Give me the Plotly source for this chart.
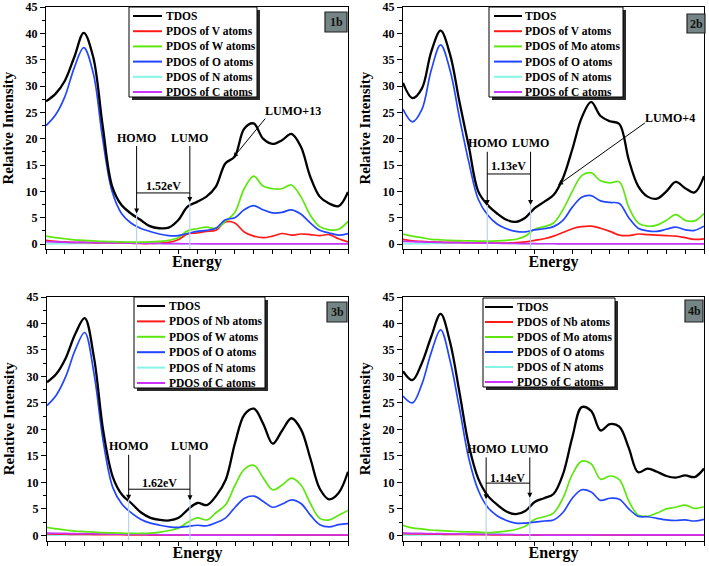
import plotly.graph_objects as go

# ---------------- data ----------------
ENERGY = [0.0, 0.25, 0.5, 0.75, 1.0, 1.25, 1.5, 1.75, 2.0, 2.25, 2.5, 2.75, 3.0, 3.25, 3.5, 3.75,
          4.0, 4.25, 4.5, 4.75, 5.0, 5.25, 5.5, 5.75, 6.0, 6.25, 6.5, 6.75, 7.0, 7.25, 7.5, 7.75, 8.0]

# Panel 1b
P1_TDOS = [27.1, 28.5, 31.0, 35.5, 40.1, 35.5, 22.5, 11.0, 7.4, 5.8, 4.6, 3.4, 3.0, 3.1, 4.5, 7.1,
           8.0, 9.0, 10.9, 15.3, 16.6, 21.9, 22.9, 20.0, 19.0, 19.7, 20.9, 18.5, 12.8, 9.0, 7.7, 7.2, 9.9]
P1_V = [0.7, 0.5, 0.4, 0.3, 0.3, 0.25, 0.2, 0.2, 0.2, 0.15, 0.1, 0.1, 0.15, 0.3, 0.8, 1.9,
        2.1, 2.4, 2.6, 4.2, 4.0, 2.3, 1.5, 1.2, 1.5, 2.0, 1.7, 1.9, 1.8, 1.6, 1.8, 1.0, 0.4]
P1_W = [1.5, 1.2, 1.0, 0.8, 0.7, 0.6, 0.5, 0.45, 0.4, 0.35, 0.35, 0.4, 0.5, 0.7, 1.2, 2.5,
        2.9, 3.2, 3.0, 4.3, 6.0, 10.5, 12.9, 11.0, 10.5, 10.5, 11.2, 9.0, 5.5, 3.3, 2.7, 2.8, 4.3]
P1_O = [22.5, 24.5, 28.0, 33.5, 37.3, 32.5, 20.0, 10.0, 5.8, 4.0, 3.0, 2.4, 1.9, 1.6, 1.6, 2.0,
        2.4, 2.6, 3.0, 4.6, 5.0, 6.5, 7.3, 6.5, 5.9, 6.0, 6.5, 5.7, 4.0, 2.6, 2.1, 1.7, 2.0]
P1_N = [0.05, 0.05, 0.08, 0.1, 0.12, 0.15, 0.2, 0.22, 0.25, 0.25, 0.2, 0.15, 0.1, 0.08, 0.05, 0.05,
        0.05, 0.05, 0.05, 0.05, 0.05, 0.05, 0.05, 0.05, 0.05, 0.05, 0.05, 0.05, 0.05, 0.05, 0.05, 0.05, 0.05]
P1_C = [0.45, 0.4, 0.35, 0.3, 0.3, 0.28, 0.25, 0.22, 0.2, 0.18, 0.15, 0.12, 0.1, 0.08, 0.06, 0.05,
        0.05, 0.04, 0.04, 0.04, 0.04, 0.03, 0.03, 0.03, 0.03, 0.03, 0.03, 0.03, 0.03, 0.03, 0.02, 0.02, 0.02]

# Panel 2b
P2_TDOS = [30.6, 27.7, 29.5, 36.5, 40.5, 36.0, 27.0, 18.5, 10.0, 7.4, 5.8, 4.6, 4.2, 5.0, 6.8, 8.0,
           9.3, 12.5, 18.0, 24.0, 27.0, 24.3, 23.3, 22.8, 16.0, 11.0, 9.0, 8.6, 10.0, 11.8, 10.6, 9.8, 12.9]
P2_V = [0.9, 0.6, 0.5, 0.4, 0.35, 0.3, 0.3, 0.25, 0.2, 0.2, 0.2, 0.2, 0.25, 0.4, 0.7, 1.0,
        1.5, 2.2, 2.9, 3.3, 3.4, 3.0, 2.4, 1.7, 1.6, 1.9, 1.8, 1.7, 1.6, 1.5, 1.2, 0.9, 1.0]
P2_MO = [1.9, 1.5, 1.2, 0.9, 0.8, 0.7, 0.65, 0.6, 0.55, 0.55, 0.6, 0.7, 0.9, 1.5, 2.8, 3.3,
         4.0, 6.5, 10.0, 13.0, 13.5, 12.0, 11.6, 11.8, 7.0, 4.0, 3.4, 3.6, 4.5, 5.6, 4.5, 4.4, 5.8]
P2_O = [25.6, 23.2, 25.5, 33.0, 37.8, 33.0, 24.0, 15.5, 8.5, 5.5, 3.8, 2.9, 2.4, 2.3, 2.7, 2.9,
        3.3, 4.5, 7.0, 8.9, 9.2, 8.2, 7.9, 7.7, 5.0, 3.0, 2.5, 2.4, 2.8, 3.2, 2.7, 2.6, 3.4]
P2_N = [0.05, 0.05, 0.08, 0.1, 0.12, 0.15, 0.2, 0.22, 0.25, 0.25, 0.2, 0.15, 0.1, 0.08, 0.05, 0.05,
        0.05, 0.05, 0.05, 0.05, 0.05, 0.05, 0.05, 0.05, 0.05, 0.05, 0.05, 0.05, 0.05, 0.05, 0.05, 0.05, 0.05]
P2_C = [0.5, 0.45, 0.4, 0.35, 0.3, 0.28, 0.25, 0.22, 0.2, 0.18, 0.15, 0.12, 0.1, 0.08, 0.06, 0.05,
        0.05, 0.04, 0.04, 0.04, 0.04, 0.03, 0.03, 0.03, 0.03, 0.03, 0.03, 0.03, 0.03, 0.03, 0.02, 0.02, 0.02]

# Panel 3b
P3_TDOS = [28.9, 30.5, 33.5, 38.0, 41.0, 33.5, 19.5, 11.0, 7.6, 6.0, 4.3, 3.3, 2.9, 2.8, 3.3, 4.9,
           6.1, 5.7, 7.5, 10.5, 17.5, 22.8, 23.9, 21.0, 17.3, 19.8, 22.1, 20.0, 14.5, 8.8, 6.8, 8.0, 12.0]
P3_NB = [0.25, 0.22, 0.2, 0.18, 0.16, 0.14, 0.12, 0.1, 0.1, 0.08, 0.06, 0.05, 0.04, 0.03, 0.03, 0.03,
         0.03, 0.03, 0.03, 0.03, 0.03, 0.03, 0.03, 0.03, 0.03, 0.03, 0.03, 0.03, 0.03, 0.03, 0.03, 0.03, 0.03]
P3_W = [1.5, 1.2, 1.0, 0.8, 0.7, 0.6, 0.5, 0.45, 0.4, 0.35, 0.35, 0.4, 0.6, 0.9, 1.4, 2.5,
        3.3, 2.9, 4.3, 5.8, 9.5, 12.5, 13.2, 10.8, 8.6, 9.5, 10.8, 9.5, 6.0, 3.2, 2.9, 3.8, 4.7]
P3_O = [24.5, 26.5, 30.0, 35.0, 38.3, 30.5, 17.5, 9.0, 5.8, 4.2, 3.0, 2.3, 1.9, 1.6, 1.5, 1.7,
        1.9, 1.8, 2.4, 3.3, 5.3, 7.0, 7.4, 6.4, 5.3, 5.9, 6.7, 6.0, 3.8, 2.0, 1.6, 2.0, 2.2]
P3_N = [0.05, 0.05, 0.08, 0.1, 0.12, 0.15, 0.2, 0.22, 0.25, 0.3, 0.3, 0.2, 0.15, 0.1, 0.05, 0.05,
        0.05, 0.05, 0.05, 0.05, 0.05, 0.05, 0.05, 0.05, 0.05, 0.05, 0.05, 0.05, 0.05, 0.05, 0.05, 0.05, 0.05]
P3_C = [0.4, 0.38, 0.35, 0.3, 0.3, 0.28, 0.25, 0.22, 0.2, 0.18, 0.15, 0.12, 0.1, 0.08, 0.06, 0.05,
        0.05, 0.05, 0.05, 0.05, 0.05, 0.05, 0.05, 0.05, 0.05, 0.06, 0.06, 0.06, 0.06, 0.06, 0.06, 0.06, 0.06]

# Panel 4b
P4_TDOS = [31.0, 29.3, 32.5, 37.5, 41.8, 36.5, 27.0, 17.0, 10.7, 7.5, 5.8, 4.5, 4.0, 4.6, 6.3, 7.0,
           7.8, 11.5, 18.5, 24.2, 23.5, 19.8, 21.0, 20.5, 16.5, 11.9, 12.6, 12.0, 11.2, 10.9, 11.3, 11.0, 12.6]
P4_NB = [0.3, 0.28, 0.25, 0.22, 0.2, 0.18, 0.16, 0.14, 0.12, 0.1, 0.08, 0.06, 0.05, 0.04, 0.03, 0.03,
         0.03, 0.03, 0.03, 0.03, 0.03, 0.03, 0.03, 0.03, 0.03, 0.03, 0.03, 0.03, 0.03, 0.03, 0.03, 0.03, 0.03]
P4_MO = [1.9, 1.4, 1.2, 1.0, 0.9, 0.8, 0.7, 0.65, 0.6, 0.5, 0.6, 0.8, 1.1, 1.7, 3.0, 3.5,
         4.2, 7.0, 11.5, 14.0, 13.5, 10.6, 11.2, 10.5, 6.5, 3.8, 3.6, 4.2, 5.0, 5.3, 5.7, 5.1, 5.4]
P4_O = [26.3, 25.0, 28.5, 34.5, 38.8, 33.0, 24.0, 14.5, 8.5, 5.3, 3.7, 2.8, 2.3, 2.3, 2.5, 2.7,
        2.9, 4.3, 7.0, 8.6, 8.2, 6.6, 7.0, 6.8, 5.0, 3.6, 3.5, 3.2, 2.9, 2.8, 2.9, 2.7, 3.0]
P4_N = [0.05, 0.05, 0.08, 0.1, 0.12, 0.15, 0.2, 0.22, 0.25, 0.3, 0.3, 0.2, 0.15, 0.1, 0.05, 0.05,
        0.05, 0.05, 0.05, 0.05, 0.05, 0.05, 0.05, 0.05, 0.05, 0.05, 0.05, 0.05, 0.05, 0.05, 0.05, 0.05, 0.05]
P4_C = [0.4, 0.38, 0.35, 0.3, 0.3, 0.28, 0.25, 0.22, 0.2, 0.18, 0.15, 0.12, 0.1, 0.08, 0.06, 0.05,
        0.05, 0.05, 0.05, 0.05, 0.05, 0.06, 0.06, 0.06, 0.06, 0.07, 0.07, 0.07, 0.07, 0.07, 0.07, 0.07, 0.07]

PANEL_TAGS = ["1b", "2b", "3b", "4b"]
LEGEND_NAMES = [
    ["TDOS", "PDOS of V atoms", "PDOS of W atoms", "PDOS of O atoms", "PDOS of N atoms", "PDOS of C atoms"],
    ["TDOS", "PDOS of V atoms", "PDOS of Mo atoms", "PDOS of O atoms", "PDOS of N atoms", "PDOS of C atoms"],
    ["TDOS", "PDOS of Nb atoms", "PDOS of W atoms", "PDOS of O atoms", "PDOS of N atoms", "PDOS of C atoms"],
    ["TDOS", "PDOS of Nb atoms", "PDOS of Mo atoms", "PDOS of O atoms", "PDOS of N atoms", "PDOS of C atoms"],
]
SERIES = [
    [P1_TDOS, P1_V, P1_W, P1_O, P1_N, P1_C],
    [P2_TDOS, P2_V, P2_MO, P2_O, P2_N, P2_C],
    [P3_TDOS, P3_NB, P3_W, P3_O, P3_N, P3_C],
    [P4_TDOS, P4_NB, P4_MO, P4_O, P4_N, P4_C],
]
GAP_LABELS = ["1.52eV", "1.13eV", "1.62eV", "1.14eV"]
HOMO_X = [2.40, 2.24, 2.17, 2.21]
LUMO_X = [3.81, 3.39, 3.80, 3.37]
HOMO_TIP = [5.8, 7.4, 6.7, 6.8]
LUMO_TIP = [8.0, 7.4, 6.6, 7.1]
LABEL_Y = [20.2, 19.1, 16.8, 16.3]
BRACKET_Y = [9.7, 13.3, 8.7, 9.85]
GAP_TEXT_Y = [11.0, 14.9, 9.9, 10.9]
EXTRA = {0: dict(text="LUMO+13", tx=6.54, ty=25.2, x0=5.84, y0=24.1, x1=4.96, y1=16.4),
         1: dict(text="LUMO+4", tx=7.09, ty=24.0, x0=6.47, y0=23.2, x1=4.12, y1=11.2)}

# ---------------- styling / layout ----------------
W, H = 709, 566
ML, MR, MT, MB = 46, 5, 7, 25
PW, PH = W - ML - MR, H - MT - MB

def xp(px):
    return (px - ML) / PW

def yp(py):
    return 1 - (py - MT) / PH

COLORS = ["#000000", "#ff1a1a", "#5ee60f", "#2246ff", "#86f5e6", "#cc33ff"]
WIDTHS = [2.3, 1.7, 1.7, 1.7, 1.7, 1.7]
DRAW_ORDER = [4, 1, 5, 2, 3, 0]
FONT = "Liberation Serif"

# panel pixel frames: (left, right, top, bottom)
FRAMES = [(46, 348, 7, 249.3), (403, 704, 7, 249.3), (47, 348, 297, 540.6), (403, 704, 297, 540.6)]
LEGEND_BOX = [(129, 257, 7, 97), (489, 623, 7, 97), (134, 265, 297, 388), (483, 615, 298, 387)]
LEGEND_LINE = [(133, 162, 164), (494, 522, 523), (137, 165, 167), (485, 513, 515)]
TAG_BOX = [(325, 347, 12, 32), (687, 705, 14, 33), (327, 347, 302, 322), (685, 703, 300, 322)]

fig = go.Figure()
layout = dict(width=W, height=H, margin=dict(l=ML, r=MR, t=MT, b=MB),
              paper_bgcolor="white", plot_bgcolor="white", showlegend=False,
              font=dict(family=FONT, color="black"))
shapes, annots = [], []

for i in range(4):
    sfx = "" if i == 0 else str(i + 1)
    xa, ya = "x" + sfx, "y" + sfx
    l, r, t, b = FRAMES[i]
    for k in DRAW_ORDER:
        fig.add_trace(go.Scatter(x=ENERGY, y=SERIES[i][k], mode="lines", name=LEGEND_NAMES[i][k],
                                 line=dict(color=COLORS[k], width=WIDTHS[k], shape="spline", smoothing=1.0),
                                 xaxis=xa, yaxis=ya))
    layout["xaxis" + sfx] = dict(domain=[xp(l), xp(r)], range=[0, 8], dtick=0.5, tick0=0,
                                 ticks="outside", ticklen=4, tickwidth=1.2, tickcolor="black",
                                 showticklabels=False, showgrid=False, zeroline=False,
                                 showline=True, linewidth=1.3, linecolor="black", mirror=True,
                                 anchor=ya, automargin=False,
                                 title=dict(text="Energy", standoff=2,
                                            font=dict(family=FONT, size=16, weight="bold")))
    layout["yaxis" + sfx] = dict(domain=[yp(b), yp(t)], range=[-1, 45], dtick=5, tick0=0,
                                 ticks="outside", ticklen=5, tickwidth=1.2, tickcolor="black",
                                 minor=dict(dtick=2.5, ticks="outside", ticklen=3, tickcolor="black"),
                                 tickfont=dict(family=FONT, size=12, weight="bold"),
                                 showgrid=False, zeroline=False,
                                 showline=True, linewidth=1.3, linecolor="black", mirror=True,
                                 anchor=xa, automargin=False,
                                 title=dict(text="Relative Intensity", standoff=8,
                                            font=dict(family=FONT, size=15, weight="bold")))

    # HOMO / LUMO markers
    for xx, tip in ((HOMO_X[i], HOMO_TIP[i]), (LUMO_X[i], LUMO_TIP[i])):
        shapes.append(dict(type="line", xref=xa, yref=ya, x0=xx, x1=xx, y0=-1, y1=tip,
                           line=dict(color="#b9d3ee", width=1.2)))
        annots.append(dict(xref=xa, yref=ya, axref=xa, ayref=ya, x=xx, y=tip, ax=xx, ay=LABEL_Y[i] - 1.3,
                           text="", showarrow=True, arrowhead=2, arrowsize=1, arrowwidth=1,
                           arrowcolor="black", standoff=0, startstandoff=0))
    annots.append(dict(xref=xa, yref=ya, x=HOMO_X[i], y=LABEL_Y[i], text="HOMO", showarrow=False,
                       font=dict(size=12, weight="bold"), yanchor="middle"))
    annots.append(dict(xref=xa, yref=ya, x=LUMO_X[i], y=LABEL_Y[i], text="LUMO", showarrow=False,
                       font=dict(size=12, weight="bold"), yanchor="middle"))
    shapes.append(dict(type="line", xref=xa, yref=ya, x0=HOMO_X[i], x1=LUMO_X[i],
                       y0=BRACKET_Y[i], y1=BRACKET_Y[i], line=dict(color="black", width=1)))
    annots.append(dict(xref=xa, yref=ya, x=(HOMO_X[i] + LUMO_X[i]) / 2, y=GAP_TEXT_Y[i],
                       text=GAP_LABELS[i], showarrow=False, font=dict(size=12, weight="bold"),
                       yanchor="middle"))
    if i in EXTRA:
        e = EXTRA[i]
        annots.append(dict(xref=xa, yref=ya, axref=xa, ayref=ya, x=e["x1"], y=e["y1"], ax=e["x0"], ay=e["y0"],
                           text="", showarrow=True, arrowhead=2, arrowsize=1, arrowwidth=1,
                           arrowcolor="black", standoff=0))
        annots.append(dict(xref=xa, yref=ya, x=e["tx"], y=e["ty"], text=e["text"], showarrow=False,
                           font=dict(size=12, weight="bold"), yanchor="middle"))

    # legend box with shadow (drawn manually to match the Origin style)
    bl, br, bt, bb = LEGEND_BOX[i]
    shapes.append(dict(type="rect", xref="paper", yref="paper", x0=xp(bl + 3), x1=xp(br + 3),
                       y0=yp(bb + 3), y1=yp(bt + 3), fillcolor="#2a2a2a", line=dict(width=0)))
    shapes.append(dict(type="rect", xref="paper", yref="paper", x0=xp(bl), x1=xp(br),
                       y0=yp(bb), y1=yp(bt), fillcolor="white", line=dict(color="black", width=1)))
    l0, l1, tx = LEGEND_LINE[i]
    step = (bb - bt - 14) / 5.0
    for k in range(6):
        yy = bt + 9 + k * step
        shapes.append(dict(type="line", xref="paper", yref="paper", x0=xp(l0), x1=xp(l1),
                           y0=yp(yy), y1=yp(yy), line=dict(color=COLORS[k], width=2)))
        annots.append(dict(xref="paper", yref="paper", x=xp(tx), y=yp(yy), text=LEGEND_NAMES[i][k],
                           showarrow=False, xanchor="left", yanchor="middle",
                           font=dict(size=11.5, weight="bold")))

    # panel tag
    tl, tr, tt, tb = TAG_BOX[i]
    shapes.append(dict(type="rect", xref="paper", yref="paper", x0=xp(tl), x1=xp(tr),
                       y0=yp(tb), y1=yp(tt), fillcolor="#758585", line=dict(color="#222222", width=1.2)))
    annots.append(dict(xref="paper", yref="paper", x=xp((tl + tr) / 2), y=yp((tt + tb) / 2),
                       text=PANEL_TAGS[i], showarrow=False, xanchor="center", yanchor="middle",
                       font=dict(size=12, weight="bold", color="#111111")))

layout["shapes"] = shapes
layout["annotations"] = annots
fig.update_layout(**layout)
fig.write_html("out.html", config={"displayModeBar": False},
               post_script="document.body.style.margin='0';")
